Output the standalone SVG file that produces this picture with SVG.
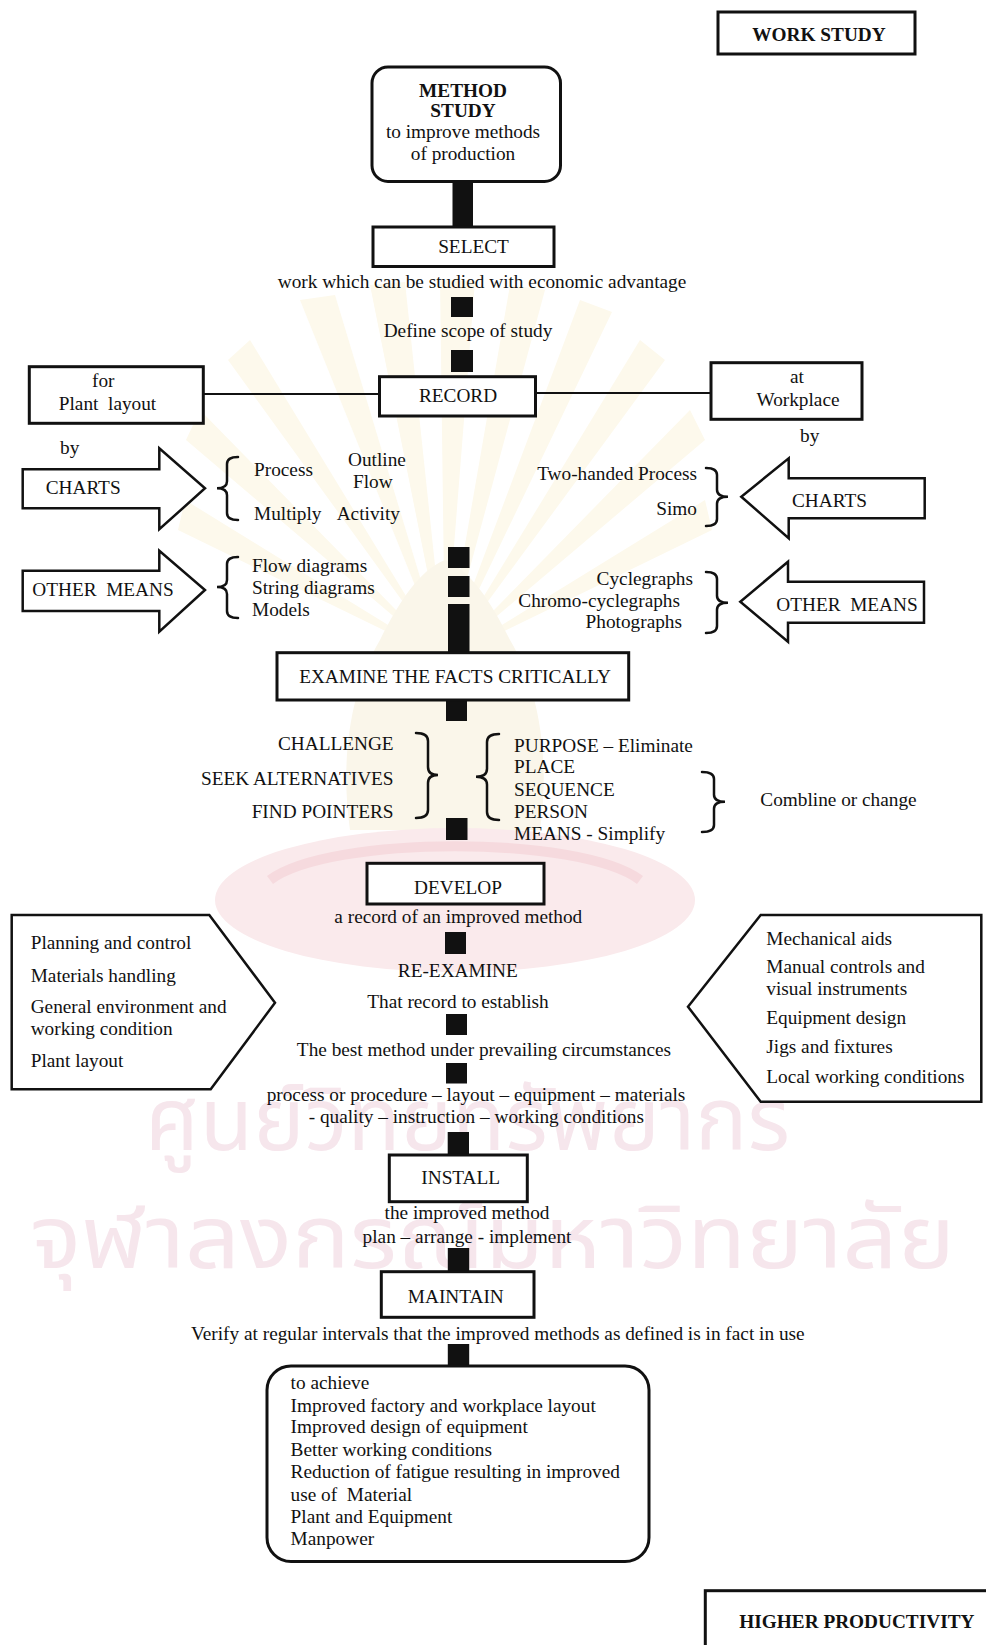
<svg xmlns="http://www.w3.org/2000/svg" width="986" height="1645" viewBox="0 0 986 1645">
  <style>
    .t { font-family: "Liberation Serif", "Times New Roman", serif; font-size: 19.3px; fill: #111; }
    .b { font-weight: bold; }
    .m { text-anchor: middle; }
    .e { text-anchor: end; }
    .pre { white-space: pre; }
    .box { fill: #fff; stroke: #111; stroke-width: 3; }
    .shape { fill: #fff; stroke: #111; stroke-width: 2.5; }
    .bar { fill: #111; }
    .ln { fill: none; stroke: #111; stroke-width: 2; }
    .brace { fill: none; stroke: #111; stroke-width: 2.5; stroke-linecap: round; }
    .wm { font-family: "Noto Sans Thai", "Noto Sans", "DejaVu Sans", sans-serif; fill: #f6e6ec; }
  </style>

  <rect width="986" height="1645" fill="#fff"/>

  <!-- faint library stamp behind the chart -->
  <g id="watermark">
    <g fill="#fdf9ec">
      <polygon points="445,660 300,300 335,295"/>
      <polygon points="445,660 370,285 405,282"/>
      <polygon points="445,660 440,280 475,281"/>
      <polygon points="445,660 510,285 545,290"/>
      <polygon points="445,660 580,300 612,312"/>
      <polygon points="445,660 640,340 665,360"/>
      <polygon points="445,660 250,340 228,360"/>
      <polygon points="445,660 690,410 705,440"/>
      <polygon points="445,660 200,410 186,440"/>
      <polygon points="445,660 705,500 712,530"/>
      <polygon points="445,660 185,500 178,530"/>
    </g>
    <path d="M350,830 C340,760 350,690 380,640 C400,600 420,570 445,560 C470,570 490,600 510,640 C540,690 550,760 540,830 Z" fill="#faf6ea"/>
    <ellipse cx="455" cy="900" rx="240" ry="72" fill="#faeaec"/>
    <path d="M270,880 C330,835 580,835 640,880" fill="none" stroke="#f6dade" stroke-width="10"/>
    <text class="wm" x="145" y="1150" font-size="88" textLength="645" lengthAdjust="spacingAndGlyphs">ศูนย์วิทยทรัพยากร</text>
    <text class="wm" x="30" y="1268" font-size="88" textLength="925" lengthAdjust="spacingAndGlyphs">จุฬาลงกรณ์มหาวิทยาลัย</text>
  </g>

  <!-- thick flow bars and plain link lines -->
  <g id="connectors">
    <rect class="bar" x="452.5" y="181" width="20.5" height="46"/>
    <rect class="bar" x="451" y="297" width="22" height="20"/>
    <rect class="bar" x="451" y="350" width="22" height="22"/>
    <line class="ln" x1="203" y1="394" x2="380" y2="394"/>
    <line class="ln" x1="535" y1="393" x2="711" y2="393"/>
    <rect class="bar" x="448" y="547" width="21.5" height="21"/>
    <rect class="bar" x="448" y="576" width="21.5" height="21"/>
    <rect class="bar" x="448" y="604" width="21.5" height="49"/>
    <rect class="bar" x="446" y="700" width="21" height="21"/>
    <rect class="bar" x="446" y="818" width="21.5" height="22"/>
    <rect class="bar" x="445" y="932" width="21" height="22"/>
    <rect class="bar" x="446" y="1014" width="21" height="21"/>
    <rect class="bar" x="446" y="1063" width="21" height="20.5"/>
    <rect class="bar" x="447.7" y="1132" width="21.3" height="23.5"/>
    <rect class="bar" x="447.8" y="1248" width="21.4" height="24"/>
    <rect class="bar" x="447.8" y="1344" width="21.4" height="22.5"/>
  </g>

  <g id="work-study">
    <rect class="box" x="718" y="12" width="197" height="42"/>
    <text class="t b m" x="819" y="40.5" font-size="20">WORK STUDY</text>
  </g>

  <g id="method-study">
    <rect class="box" x="372" y="67" width="188.5" height="114.5" rx="16"/>
    <text class="t b m" x="463" y="97">METHOD</text>
    <text class="t b m" x="463" y="117">STUDY</text>
    <text class="t m" x="463" y="138">to improve methods</text>
    <text class="t m" x="463" y="160">of production</text>
  </g>

  <g id="select">
    <rect class="box" x="373" y="227" width="181" height="39.5"/>
    <text class="t m" x="473.5" y="253">SELECT</text>
    <text class="t m" x="482" y="287.5">work which can be studied with economic advantage</text>
    <text class="t m" x="468" y="336.7">Define scope of study</text>
  </g>

  <g id="record">
    <rect class="box" x="379.5" y="376.7" width="156" height="39.3"/>
    <text class="t m" x="458" y="401.7">RECORD</text>
  </g>

  <g id="plant-layout">
    <rect class="box" x="29.3" y="366.7" width="174" height="56.6"/>
    <text class="t m" x="103.3" y="387">for</text>
    <text class="t m pre" x="107.5" y="410">Plant  layout</text>
    <text class="t" x="60" y="454">by</text>
  </g>

  <g id="workplace">
    <rect class="box" x="711" y="362.7" width="151" height="56.6"/>
    <text class="t m" x="797" y="383">at</text>
    <text class="t m" x="798" y="406">Workplace</text>
    <text class="t" x="800" y="441.7">by</text>
  </g>

  <g id="charts-left">
    <polygon class="shape" points="22.7,469.3 159.3,469.3 159.3,448.3 205,488.3 159.3,529.3 159.3,508.3 22.7,508.3"/>
    <text class="t" x="45.7" y="494">CHARTS</text>
    <path class="brace" d="M238,457 Q227,457 227,464 L227,481.3 Q227,488.3 217,488.3 Q227,488.3 227,495.3 L227,513 Q227,520 238,520"/>
    <text class="t" x="254" y="475.7">Process</text>
    <text class="t" x="348" y="465.7">Outline</text>
    <text class="t" x="353" y="487.7">Flow</text>
    <text class="t" x="254" y="520">Multiply</text>
    <text class="t" x="336.7" y="520">Activity</text>
  </g>

  <g id="other-means-left">
    <polygon class="shape" points="22.7,570.7 159.3,570.7 159.3,550.7 205,590 159.3,631.7 159.3,611 22.7,611"/>
    <text class="t pre" x="32.3" y="596">OTHER  MEANS</text>
    <path class="brace" d="M238,557 Q227,557 227,564 L227,580 Q227,587 217,587 Q227,587 227,594 L227,611 Q227,618 238,618"/>
    <text class="t" x="252" y="571.7">Flow diagrams</text>
    <text class="t" x="252" y="594">String diagrams</text>
    <text class="t" x="252" y="616">Models</text>
  </g>

  <g id="charts-right">
    <polygon class="shape" points="924.7,478.3 788.7,478.3 788.7,458.3 741.3,496.7 788.7,538.3 788.7,518.3 924.7,518.3"/>
    <text class="t" x="792" y="507.3">CHARTS</text>
    <path class="brace" d="M706,468 Q717,468 717,475 L717,489.7 Q717,496.7 728,496.7 Q717,496.7 717,503.7 L717,519 Q717,526 706,526"/>
    <text class="t e" x="697" y="480">Two-handed Process</text>
    <text class="t e" x="697" y="515">Simo</text>
  </g>

  <g id="other-means-right">
    <polygon class="shape" points="924,581.7 788,581.7 788,561.7 740.3,601.7 788,641.7 788,622.7 924,622.7"/>
    <text class="t pre" x="776.3" y="610.7">OTHER  MEANS</text>
    <path class="brace" d="M706,572 Q717,572 717,579 L717,595.7 Q717,602.7 728,602.7 Q717,602.7 717,609.7 L717,626 Q717,633 706,633"/>
    <text class="t e" x="693" y="585">Cyclegraphs</text>
    <text class="t e" x="680" y="606.7">Chromo-cyclegraphs</text>
    <text class="t e" x="682" y="628.3">Photographs</text>
  </g>

  <g id="examine">
    <rect class="box" x="277" y="652.7" width="351.7" height="47.3"/>
    <text class="t m" x="455" y="683.3">EXAMINE THE FACTS CRITICALLY</text>
  </g>

  <g id="questions">
    <text class="t e" x="393.6" y="750">CHALLENGE</text>
    <text class="t e" x="393.6" y="785">SEEK ALTERNATIVES</text>
    <text class="t e" x="393.6" y="818">FIND POINTERS</text>
    <path class="brace" d="M416,733 Q428,733 428,741 L428,767 Q428,775 438,775 Q428,775 428,783 L428,810 Q428,818 416,818"/>
    <path class="brace" d="M499,734 Q487,734 487,742 L487,768.7 Q487,776.7 476,776.7 Q487,776.7 487,784.7 L487,812 Q487,820 499,820"/>
    <text class="t" x="514" y="751.7">PURPOSE – Eliminate</text>
    <text class="t" x="514" y="773.3">PLACE</text>
    <text class="t" x="514" y="796">SEQUENCE</text>
    <text class="t" x="514" y="817.7">PERSON</text>
    <text class="t" x="514" y="840">MEANS - Simplify</text>
    <path class="brace" d="M702,772 Q714,772 714,779 L714,794.7 Q714,801.7 725,801.7 Q714,801.7 714,808.7 L714,825 Q714,832 702,832"/>
    <text class="t" x="760.3" y="805.7">Combline or change</text>
  </g>

  <g id="develop">
    <rect class="box" x="367" y="863.3" width="177" height="40.7"/>
    <text class="t m" x="458" y="894">DEVELOP</text>
    <text class="t m" x="458.3" y="923.3">a record of an improved method</text>
    <text class="t m" x="457.8" y="976.7">RE-EXAMINE</text>
    <text class="t m" x="458" y="1008.3">That record to establish</text>
    <text class="t m" x="484" y="1056">The best method under prevailing circumstances</text>
    <text class="t m" x="476" y="1100.7">process or procedure – layout – equipment – materials</text>
    <text class="t m" x="476.3" y="1123.3">- quality – instruction – working conditions</text>
  </g>

  <g id="plant-factors">
    <polygon class="shape" points="11.7,915 209.3,915 275,1002.7 210.7,1089.3 11.7,1089.3"/>
    <text class="t" x="30.7" y="949.3">Planning and control</text>
    <text class="t" x="30.7" y="981.7">Materials handling</text>
    <text class="t" x="30.7" y="1013.3">General environment and</text>
    <text class="t" x="30.7" y="1035">working condition</text>
    <text class="t" x="30.7" y="1067.3">Plant layout</text>
  </g>

  <g id="workplace-factors">
    <polygon class="shape" points="760.7,915 981.3,915 981.3,1101.7 760.7,1101.7 688,1006.7"/>
    <text class="t" x="766.3" y="945">Mechanical aids</text>
    <text class="t" x="766.3" y="972.7">Manual controls and</text>
    <text class="t" x="766.3" y="995">visual instruments</text>
    <text class="t" x="766.3" y="1024">Equipment design</text>
    <text class="t" x="766.3" y="1053.3">Jigs and fixtures</text>
    <text class="t" x="766.3" y="1083.3">Local working conditions</text>
  </g>

  <g id="install">
    <rect class="box" x="389.3" y="1155" width="138" height="46.7"/>
    <text class="t m" x="460.7" y="1184">INSTALL</text>
    <text class="t m" x="467" y="1219.3">the improved method</text>
    <text class="t m" x="467" y="1242.5">plan – arrange - implement</text>
  </g>

  <g id="maintain">
    <rect class="box" x="381.3" y="1271.7" width="152.7" height="45.6"/>
    <text class="t m" x="455.8" y="1302.7">MAINTAIN</text>
    <text class="t m" x="497.8" y="1340">Verify at regular intervals that the improved methods as defined is in fact in use</text>
  </g>

  <g id="achieve">
    <rect class="box" x="267" y="1366" width="382" height="195.5" rx="24"/>
    <text class="t" x="290.6" y="1389.3">to achieve</text>
    <text class="t" x="290.6" y="1411.7">Improved factory and workplace layout</text>
    <text class="t" x="290.6" y="1433.3">Improved design of equipment</text>
    <text class="t" x="290.6" y="1456">Better working conditions</text>
    <text class="t" x="290.6" y="1478.3">Reduction of fatigue resulting in improved</text>
    <text class="t pre" x="290.6" y="1500.7">use of  Material</text>
    <text class="t" x="290.6" y="1522.7">Plant and Equipment</text>
    <text class="t" x="290.6" y="1545">Manpower</text>
  </g>

  <g id="higher-productivity">
    <rect class="box" x="705.3" y="1590.7" width="300" height="80"/>
    <text class="t b" x="739.3" y="1628.3" font-size="19">HIGHER PRODUCTIVITY</text>
  </g>
</svg>
